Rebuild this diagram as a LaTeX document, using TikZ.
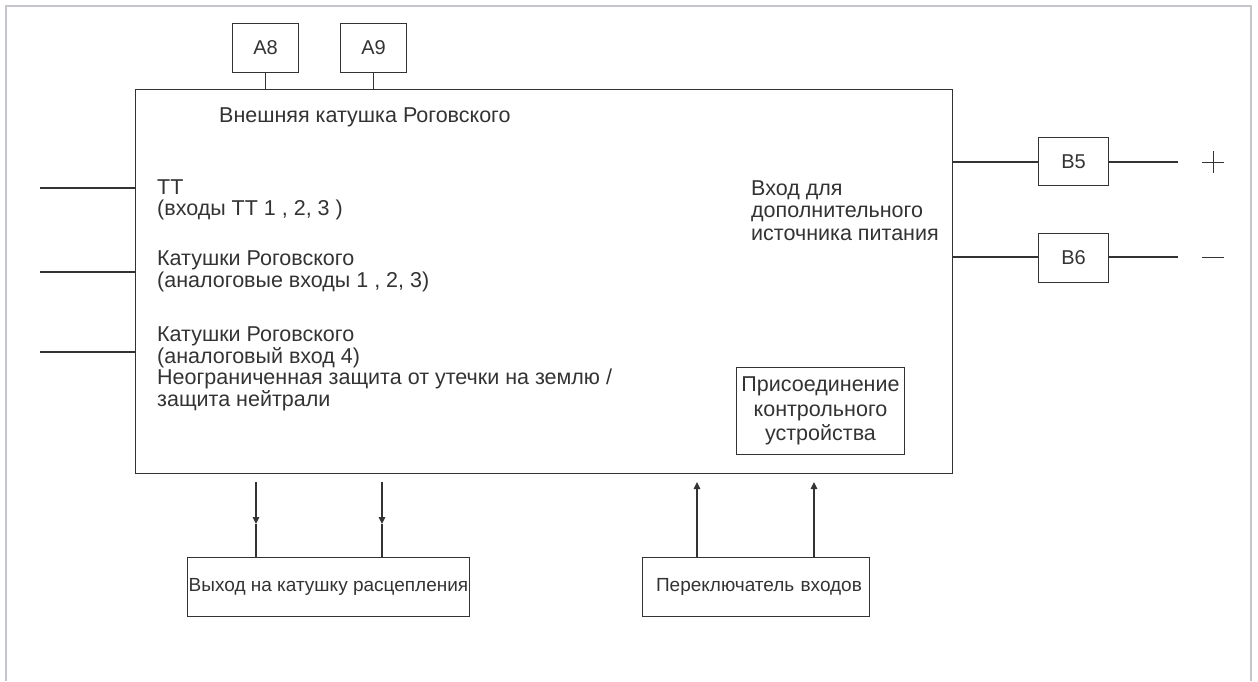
\documentclass[tikz,border=0pt]{standalone}
\usepackage{fontspec}
\setmainfont{Liberation Sans}
\usetikzlibrary{arrows.meta}
\definecolor{ink}{HTML}{333333}
\definecolor{frame}{HTML}{C6C6CA}
\begin{document}
\begin{tikzpicture}[x=1pt,y=-1pt,
  line/.style={draw=ink,line width=1.1pt},
  txt/.style={inner sep=0pt,anchor=base west,text=ink,font=\fontsize{21.5}{21.5}\selectfont,align=left},
  small/.style={text=ink,font=\fontsize{19}{21}\selectfont},
  pin/.style={draw=ink,line width=1pt,inner sep=0pt,text=ink,font=\fontsize{20}{21}\selectfont},
  arr/.style={line,-{Triangle[length=7pt,width=6.5pt]}}]
\useasboundingbox (0,0) rectangle (1258,681);
\draw[frame,line width=2.5pt] (6,681) -- (6,6) -- (1251,6) -- (1251,681);
% main box
\node[line,minimum width=817pt,minimum height=384pt,inner sep=0pt,anchor=north west] (main) at (135,89) {};
% top pins
\node[pin,minimum width=66pt,minimum height=49pt,anchor=north west] (a8) at (232,23) {A8};
\node[pin,minimum width=66pt,minimum height=49pt,anchor=north west] (a9) at (340,23) {A9};
\draw[line] (a8.south) -- (a8.south |- main.north);
\draw[line] (a9.south) -- (a9.south |- main.north);
% texts (anchor = baseline of last line)
\node[txt] (t0) at (219,122.5) {Внешняя катушка Роговского};
\node[txt] (t1) at (157,215.5) {ТТ\\(входы ТТ 1 , 2, 3 )};
\node[txt] (t2) at (157,287) {Катушки Роговского\\(аналоговые входы 1 , 2, 3)};
\node[txt] (t3) at (157,406) {Катушки Роговского\\(аналоговый вход 4)\\Неограниченная защита от утечки на землю /\\защита нейтрали};
\node[txt,font=\fontsize{21.5}{22.5}\selectfont] (t4) at (751,240) {Вход для\\дополнительного\\источника питания};
% left inputs
\coordinate (l1) at (40,188);
\coordinate (l2) at (40,272);
\coordinate (l3) at (40,352);
\draw[line] (l1) -- (l1 -| main.west);
\draw[line] (l2) -- (l2 -| main.west);
\draw[line] (l3) -- (l3 -| main.west);
% right B5/B6
\node[pin,minimum width=70pt,minimum height=48pt,anchor=north west] (b5) at (1038,137) {B5};
\node[pin,minimum width=70pt,minimum height=49pt,anchor=north west] (b6) at (1038,233) {B6};
\coordinate (p5) at (1178,162);
\coordinate (p6) at (1178,257);
\draw[line] (b5.west |- p5) -- (main.east |- p5);
\draw[line] (b5.east |- p5) -- (p5);
\draw[line] (b6.west |- p6) -- (main.east |- p6);
\draw[line] (b6.east |- p6) -- (p6);
\coordinate (plus) at (1213,162);
\coordinate (minus) at (1213,257);
\draw[draw=ink,line width=1pt] ([xshift=-11pt]plus) -- ([xshift=11pt]plus) ([yshift=-11pt]plus) -- ([yshift=11pt]plus);
\draw[draw=ink,line width=1pt] ([xshift=-11pt]minus) -- ([xshift=11pt]minus);
% monitor box
\node[pin,minimum width=168pt,minimum height=87pt,anchor=north west,font=\fontsize{21.5}{24.5}\selectfont,align=center] (mon) at (736,367) {Присоединение\\контрольного\\ устройства};
% bottom boxes
\node[draw=ink,line width=1pt,small,minimum width=282pt,minimum height=59pt,inner sep=0pt,anchor=north west] (out) at (187,557) {Выход на катушку расцепления};
\node[draw=ink,line width=1pt,small,minimum width=227pt,minimum height=59pt,inner sep=0pt,anchor=north west,text width=227pt,align=center] (sw) at (642,557) {\hspace*{6pt}Переключатель входов};
% arrows down
\coordinate (d1) at (256,482);
\coordinate (d2) at (382,482);
\coordinate (m1) at (256,524);
\coordinate (m2) at (382,524);
\draw[arr] (d1) -- (m1);
\draw[line] (m1) -- (m1 |- out.north);
\draw[arr] (d2) -- (m2);
\draw[line] (m2) -- (m2 |- out.north);
% arrows up
\coordinate (u1) at (697,482);
\coordinate (u2) at (814,482);
\draw[arr] (u1 |- sw.north) -- (u1);
\draw[arr] (u2 |- sw.north) -- (u2);
\end{tikzpicture}
\end{document}
